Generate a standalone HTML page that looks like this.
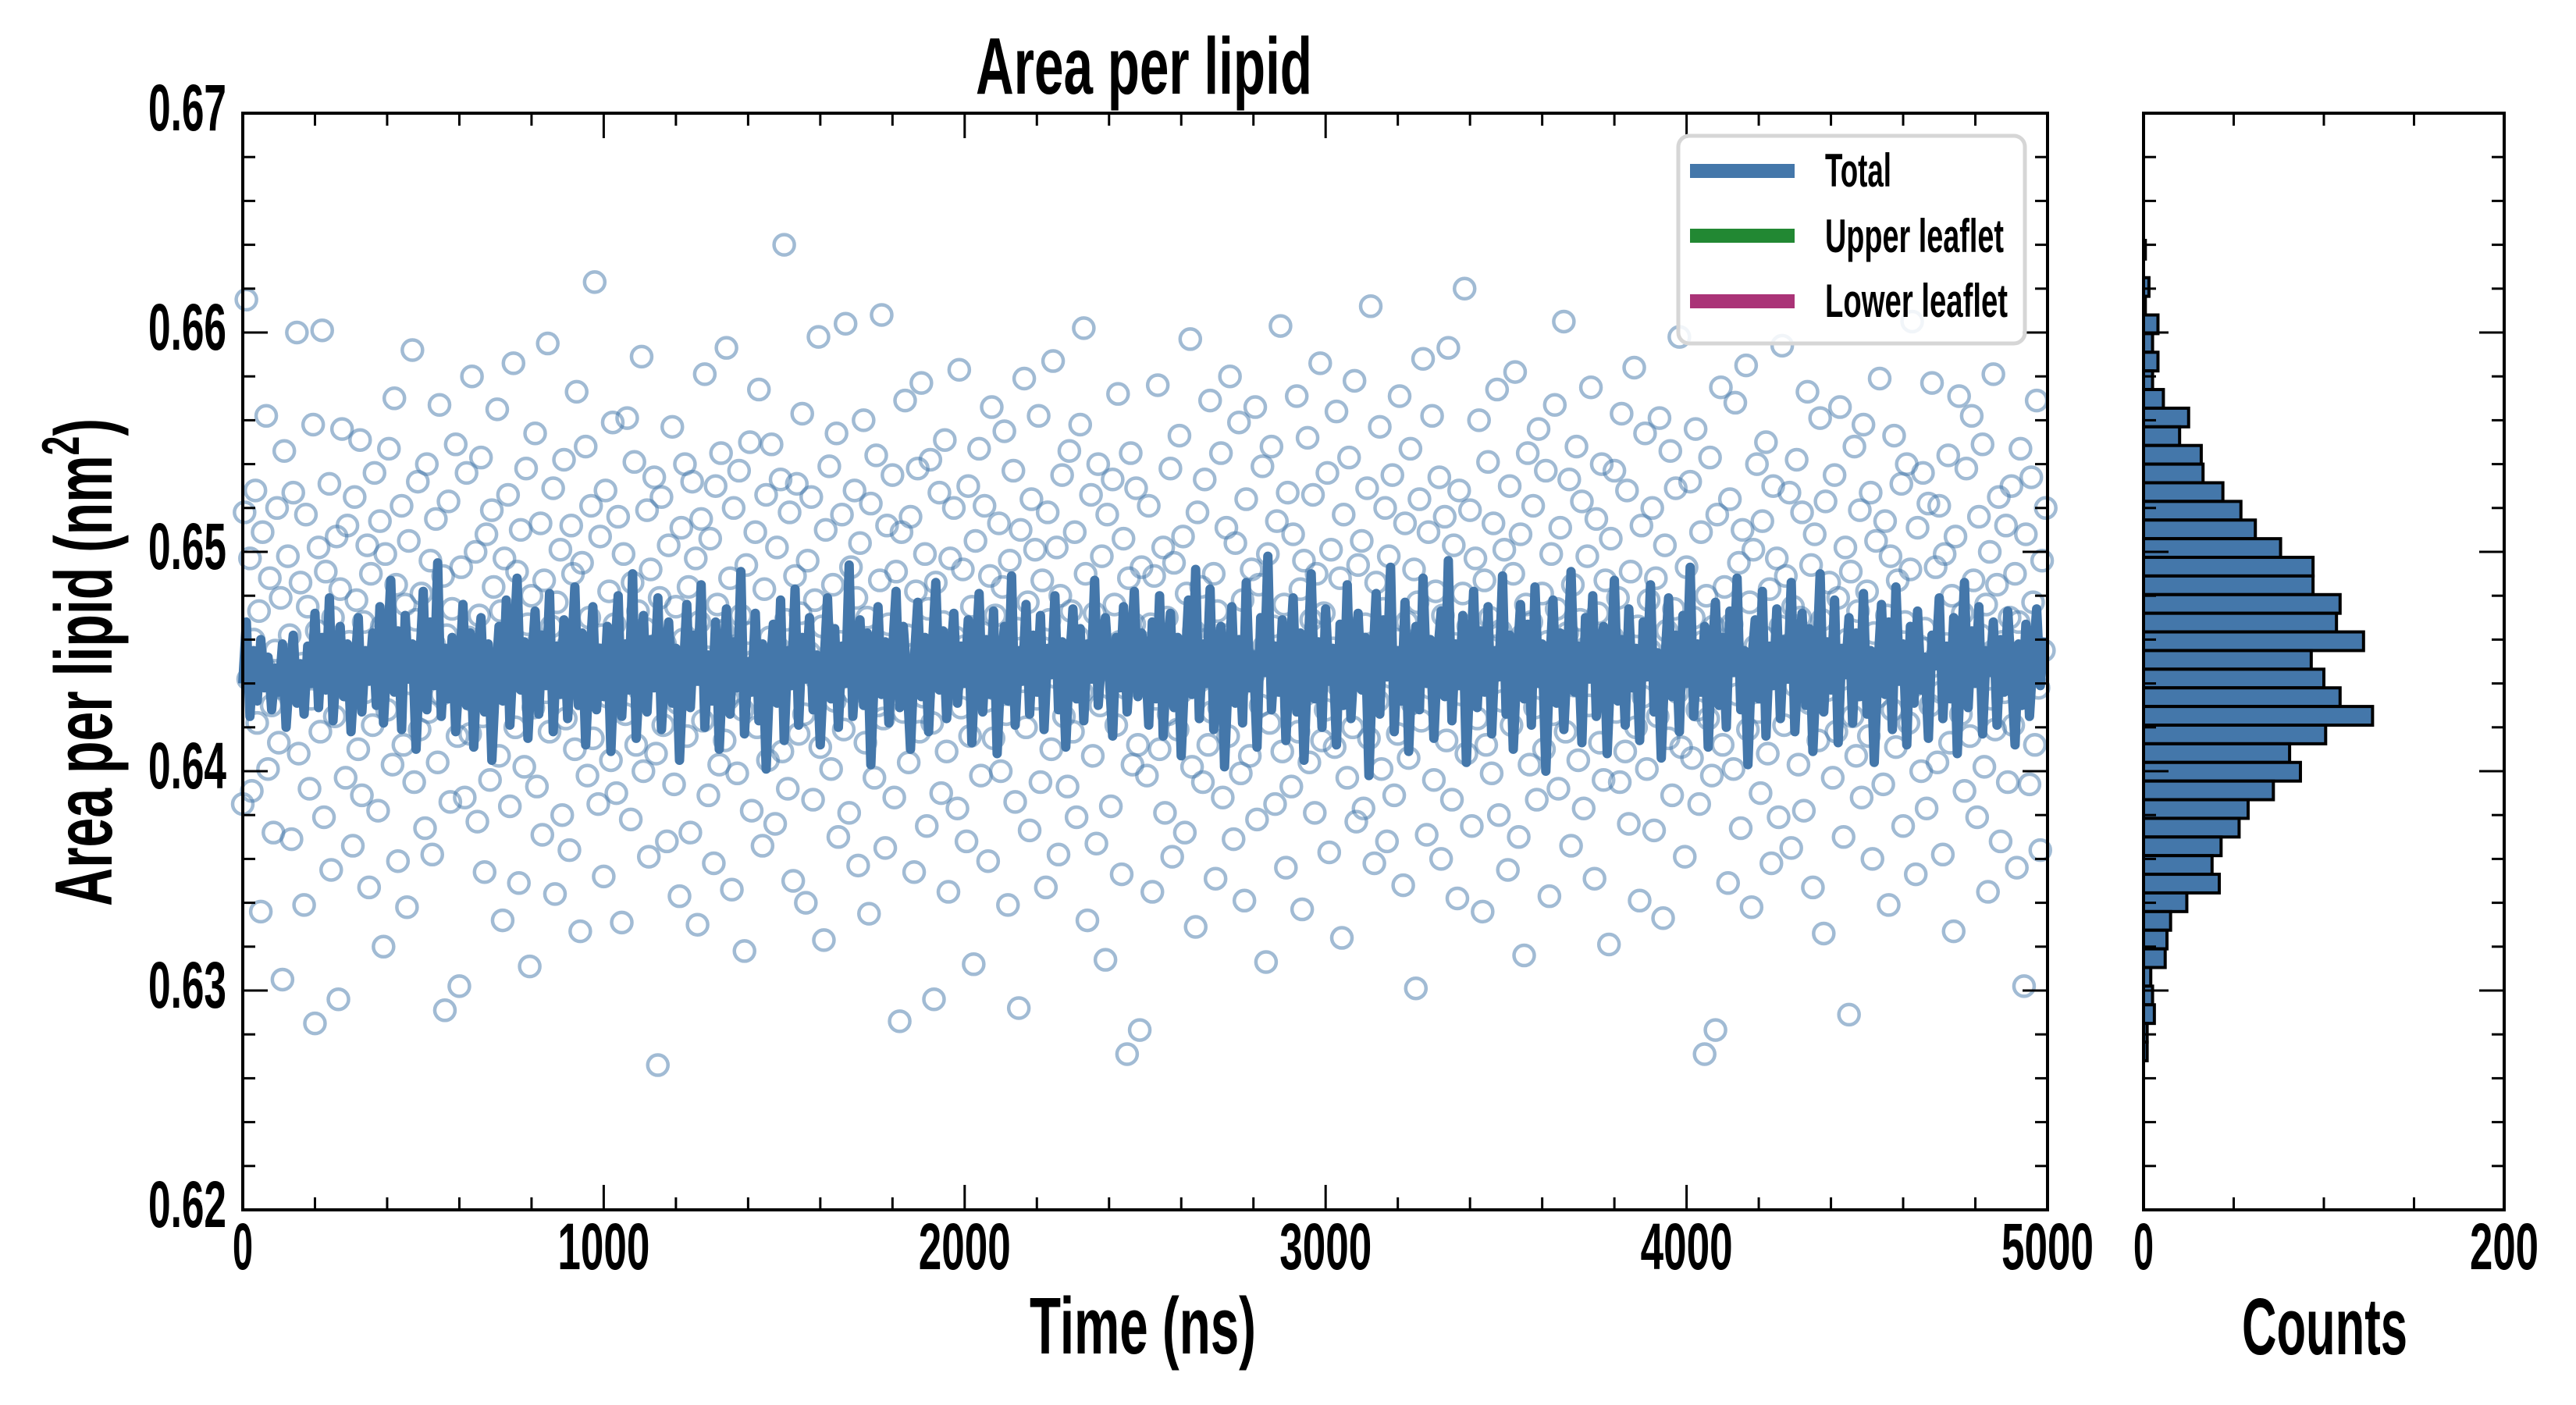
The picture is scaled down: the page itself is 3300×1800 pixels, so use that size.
<!DOCTYPE html>
<html><head><meta charset="utf-8">
<style>
html,body{margin:0;padding:0;background:#fff;}
svg{display:block;}
text{font-family:"Liberation Sans",sans-serif;font-weight:bold;fill:#000;}
</style></head>
<body>
<svg id="chart" width="3300" height="1800" viewBox="0 0 3300 1800" xmlns="http://www.w3.org/2000/svg">
<g id="scatter"></g>
<g id="line"></g>
<g id="hist"></g>
<g id="axes"></g>
<g id="legend">
  <rect x="2150" y="174" width="444" height="266" rx="14" fill="#fff" fill-opacity="0.85" stroke="#d6d6d6" stroke-width="5"/>
  <line x1="2165" y1="219" x2="2299" y2="219" stroke="#4477AA" stroke-width="18"/>
  <line x1="2165" y1="302" x2="2299" y2="302" stroke="#228833" stroke-width="18"/>
  <line x1="2165" y1="386" x2="2299" y2="386" stroke="#AA3377" stroke-width="18"/>
  <text x="2338" y="239" font-size="60" textLength="85" lengthAdjust="spacingAndGlyphs">Total</text>
  <text x="2338" y="323" font-size="60" textLength="229" lengthAdjust="spacingAndGlyphs">Upper leaflet</text>
  <text x="2338" y="406" font-size="60" textLength="234" lengthAdjust="spacingAndGlyphs">Lower leaflet</text>
</g>
<text x="1250" y="120" font-size="103" textLength="431" lengthAdjust="spacingAndGlyphs">Area per lipid</text>
<text x="1319" y="1734" font-size="103" textLength="290" lengthAdjust="spacingAndGlyphs">Time (ns)</text>
<text x="2872" y="1735" font-size="103" textLength="212" lengthAdjust="spacingAndGlyphs">Counts</text>
<text transform="translate(143,1161) rotate(-90)" font-size="104" textLength="625" lengthAdjust="spacingAndGlyphs">Area per lipid (nm<tspan font-size="68" dy="-42">2</tspan><tspan dy="42">)</tspan></text>
</svg>
<script>
const scatterStep = 5;
const scatterValues = [
.6385,.6518,.6615,.6442,.6497,.6391,.6460,.6528,.6422,.6473,.6336,.6509,.6447,.6562,.6401,.6488,.6430,.6372,.6455,.6520,
.6413,.6479,.6305,.6546,.6437,.6498,.6462,.6369,.6527,.6441,.6600,.6408,.6486,.6449,.6339,.6517,.6475,.6392,.6433,.6558,
.6285,.6464,.6502,.6418,.6601,.6379,.6491,.6446,.6531,.6355,.6470,.6425,.6507,.6296,.6483,.6556,.6438,.6397,.6512,.6459,
.6443,.6366,.6525,.6478,.6410,.6551,.6389,.6468,.6436,.6503,.6347,.6490,.6421,.6536,.6452,.6382,.6514,.6466,.6320,.6499,
.6428,.6547,.6456,.6403,.6570,.6485,.6359,.6445,.6521,.6412,.6476,.6338,.6505,.6440,.6592,.6395,.6469,.6532,.6419,.6481,
.6451,.6374,.6540,.6427,.6496,.6362,.6458,.6515,.6404,.6567,.6435,.6489,.6291,.6462,.6523,.6386,.6474,.6443,.6549,.6416,
.6302,.6493,.6450,.6388,.6536,.6461,.6417,.6580,.6432,.6500,.6377,.6471,.6543,.6425,.6354,.6508,.6447,.6396,.6519,.6484,
.6439,.6565,.6407,.6473,.6332,.6497,.6454,.6526,.6384,.6463,.6586,.6420,.6491,.6349,.6510,.6445,.6402,.6538,.6467,.6311,
.6480,.6429,.6554,.6393,.6459,.6513,.6371,.6487,.6436,.6595,.6418,.6466,.6529,.6344,.6477,.6453,.6501,.6380,.6542,.6424,
.6457,.6364,.6512,.6490,.6410,.6573,.6448,.6327,.6495,.6438,.6548,.6398,.6470,.6521,.6415,.6623,.6444,.6385,.6507,.6462,
.6352,.6528,.6434,.6482,.6405,.6559,.6467,.6390,.6516,.6449,.6331,.6499,.6426,.6561,.6455,.6378,.6486,.6541,.6412,.6473,
.6437,.6589,.6400,.6465,.6519,.6361,.6492,.6443,.6534,.6408,.6266,.6479,.6525,.6421,.6458,.6368,.6503,.6446,.6557,.6394,
.6475,.6431,.6343,.6511,.6460,.6540,.6416,.6484,.6372,.6532,.6449,.6497,.6330,.6468,.6515,.6423,.6581,.6452,.6389,.6506,
.6441,.6358,.6530,.6476,.6403,.6545,.6464,.6414,.6593,.6433,.6488,.6346,.6520,.6457,.6399,.6537,.6471,.6428,.6318,.6494,
.6463,.6550,.6382,.6450,.6509,.6420,.6574,.6439,.6366,.6483,.6526,.6405,.6461,.6549,.6435,.6376,.6502,.6456,.6533,.6409,
.6640,.6469,.6392,.6518,.6444,.6350,.6489,.6531,.6417,.6472,.6563,.6426,.6340,.6496,.6454,.6525,.6387,.6478,.6442,.6598,
.6411,.6466,.6323,.6510,.6448,.6539,.6401,.6485,.6432,.6554,.6370,.6459,.6517,.6419,.6604,.6451,.6381,.6493,.6436,.6528,
.6479,.6357,.6504,.6445,.6560,.6413,.6470,.6335,.6522,.6458,.6397,.6544,.6430,.6487,.6608,.6424,.6365,.6512,.6467,.6440,
.6535,.6388,.6491,.6453,.6286,.6509,.6427,.6569,.6462,.6404,.6516,.6447,.6354,.6482,.6538,.6418,.6577,.6434,.6499,.6375,
.6474,.6542,.6422,.6296,.6486,.6450,.6527,.6390,.6468,.6551,.6409,.6345,.6497,.6439,.6520,.6461,.6383,.6583,.6429,.6492,
.6457,.6368,.6530,.6416,.6475,.6312,.6505,.6444,.6547,.6398,.6463,.6521,.6432,.6359,.6489,.6566,.6415,.6471,.6437,.6513,
.6400,.6484,.6555,.6426,.6339,.6496,.6452,.6537,.6386,.6465,.6292,.6510,.6441,.6579,.6420,.6477,.6373,.6524,.6448,.6501,
.6433,.6562,.6395,.6487,.6456,.6347,.6518,.6469,.6410,.6587,.6443,.6502,.6362,.6480,.6535,.6425,.6455,.6393,.6546,.6473,
.6418,.6509,.6379,.6461,.6558,.6436,.6602,.6490,.6332,.6449,.6526,.6407,.6472,.6367,.6540,.6430,.6498,.6454,.6314,.6517,
.6446,.6384,.6533,.6476,.6421,.6572,.6459,.6353,.6506,.6438,.6271,.6488,.6545,.6403,.6467,.6529,.6412,.6282,.6493,.6450,
.6452,.6398,.6521,.6467,.6345,.6489,.6433,.6576,.6410,.6458,.6502,.6381,.6470,.6426,.6538,.6361,.6495,.6447,.6419,.6553,
.6436,.6507,.6372,.6481,.6455,.6597,.6402,.6464,.6329,.6518,.6441,.6484,.6395,.6533,.6460,.6412,.6569,.6427,.6490,.6351,
.6473,.6429,.6545,.6388,.6462,.6511,.6416,.6580,.6448,.6369,.6504,.6437,.6559,.6399,.6478,.6341,.6524,.6451,.6407,.6492,
.6444,.6566,.6378,.6485,.6430,.6539,.6457,.6313,.6499,.6422,.6548,.6466,.6385,.6514,.6440,.6603,.6409,.6476,.6356,.6527,
.6461,.6393,.6508,.6449,.6571,.6418,.6483,.6337,.6496,.6435,.6552,.6404,.6469,.6526,.6381,.6490,.6445,.6586,.6414,.6472,
.6428,.6536,.6363,.6501,.6456,.6411,.6564,.6439,.6488,.6324,.6517,.6453,.6397,.6543,.6465,.6420,.6578,.6377,.6494,.6447,
.6505,.6383,.6467,.6529,.6415,.6612,.6450,.6358,.6486,.6432,.6557,.6401,.6474,.6520,.6368,.6498,.6443,.6535,.6389,.6460,
.6417,.6571,.6440,.6348,.6513,.6468,.6406,.6547,.6431,.6492,.6301,.6477,.6524,.6423,.6588,.6455,.6371,.6509,.6438,.6562,
.6396,.6482,.6449,.6534,.6360,.6471,.6516,.6414,.6593,.6446,.6387,.6503,.6458,.6342,.6528,.6435,.6481,.6620,.6408,.6466,
.6519,.6375,.6452,.6497,.6424,.6560,.6443,.6336,.6487,.6412,.6541,.6470,.6399,.6513,.6457,.6574,.6380,.6464,.6432,.6501,
.6448,.6355,.6530,.6421,.6490,.6582,.6437,.6370,.6508,.6462,.6316,.6476,.6545,.6403,.6468,.6521,.6429,.6387,.6556,.6444,
.6481,.6410,.6537,.6459,.6343,.6499,.6426,.6567,.6474,.6392,.6511,.6451,.6605,.6418,.6463,.6533,.6366,.6485,.6439,.6548,
.6405,.6469,.6523,.6383,.6456,.6498,.6430,.6575,.6447,.6351,.6515,.6472,.6413,.6540,.6396,.6487,.6441,.6321,.6506,.6461,
.6537,.6427,.6479,.6395,.6563,.6450,.6409,.6528,.6376,.6491,.6445,.6584,.6420,.6466,.6341,.6512,.6434,.6554,.6401,.6478,
.6455,.6520,.6373,.6488,.6425,.6561,.6440,.6333,.6503,.6464,.6415,.6546,.6389,.6474,.6529,.6436,.6598,.6411,.6452,.6361,
.6493,.6444,.6532,.6406,.6470,.6556,.6428,.6385,.6509,.6459,.6271,.6480,.6424,.6543,.6398,.6466,.6282,.6517,.6438,.6575,
.6412,.6484,.6451,.6349,.6524,.6467,.6401,.6568,.6435,.6495,.6374,.6510,.6448,.6585,.6419,.6477,.6338,.6501,.6457,.6540,
.6427,.6390,.6514,.6461,.6550,.6408,.6483,.6358,.6530,.6443,.6497,.6379,.6466,.6594,.6421,.6489,.6452,.6527,.6365,.6475,
.6439,.6542,.6403,.6470,.6518,.6382,.6456,.6573,.6431,.6494,.6347,.6508,.6446,.6414,.6561,.6469,.6326,.6523,.6437,.6486,
.6454,.6397,.6535,.6418,.6479,.6566,.6442,.6370,.6502,.6460,.6289,.6491,.6425,.6548,.6407,.6473,.6519,.6388,.6558,.6445,
.6482,.6416,.6527,.6360,.6463,.6505,.6434,.6579,.6450,.6394,.6514,.6471,.6339,.6498,.6428,.6553,.6411,.6487,.6446,.6531,
.6375,.6468,.6540,.6422,.6492,.6605,.6439,.6353,.6511,.6457,.6400,.6536,.6465,.6383,.6522,.6430,.6577,.6448,.6493,.6404,
.6521,.6436,.6362,.6499,.6458,.6544,.6413,.6480,.6327,.6507,.6449,.6571,.6426,.6472,.6391,.6538,.6453,.6416,.6562,.6487,
.6444,.6379,.6516,.6462,.6549,.6402,.6476,.6345,.6500,.6433,.6581,.6419,.6485,.6525,.6368,.6459,.6436,.6512,.6395,.6470,
.6530,.6421,.6490,.6356,.6468,.6547,.6440,.6302,.6508,.6451,.6394,.6534,.6477,.6412,.6569,.6438,.6364,.6496,.6455,.6520
];
const lineStep = 10;
const lineValues = [
.6440,.6468,.6425,.6455,.6432,.6460,.6438,.6452,.6428,.6447,.6436,.6458,.6420,.6445,.6462,.6431,.6449,.6426,.6457,.6440,
.6472,.6429,.6461,.6437,.6479,.6423,.6450,.6466,.6434,.6458,.6418,.6446,.6470,.6427,.6455,.6441,.6463,.6430,.6475,.6422,
.6453,.6487,.6436,.6464,.6419,.6471,.6442,.6458,.6410,.6449,.6482,.6428,.6468,.6439,.6495,.6425,.6456,.6433,.6461,.6418,
.6445,.6476,.6430,.6463,.6411,.6452,.6470,.6427,.6458,.6405,.6440,.6466,.6432,.6478,.6421,.6454,.6488,.6437,.6459,.6415,
.6448,.6473,.6426,.6462,.6439,.6481,.6418,.6457,.6435,.6469,.6424,.6451,.6484,.6430,.6463,.6412,.6447,.6475,.6428,.6456,
.6434,.6466,.6409,.6452,.6480,.6425,.6458,.6437,.6490,.6415,.6445,.6471,.6427,.6460,.6438,.6479,.6419,.6450,.6468,.6431,
.6456,.6405,.6443,.6476,.6429,.6462,.6441,.6485,.6420,.6453,.6432,.6468,.6410,.6447,.6474,.6426,.6459,.6438,.6491,.6417,
.6450,.6436,.6472,.6423,.6458,.6401,.6444,.6467,.6431,.6478,.6414,.6455,.6439,.6483,.6421,.6461,.6442,.6470,.6428,.6453,
.6412,.6448,.6479,.6433,.6465,.6420,.6457,.6440,.6494,.6425,.6451,.6469,.6430,.6463,.6403,.6446,.6475,.6435,.6459,.6422,
.6454,.6482,.6429,.6466,.6443,.6410,.6450,.6477,.6434,.6461,.6418,.6455,.6486,.6437,.6464,.6424,.6449,.6472,.6431,.6457,
.6440,.6469,.6413,.6452,.6481,.6427,.6460,.6435,.6473,.6408,.6446,.6466,.6432,.6489,.6421,.6455,.6441,.6476,.6426,.6462,
.6436,.6471,.6419,.6456,.6444,.6480,.6428,.6459,.6411,.6448,.6474,.6433,.6465,.6423,.6458,.6442,.6487,.6430,.6453,.6470,
.6445,.6416,.6461,.6438,.6475,.6427,.6452,.6482,.6434,.6463,
.6455,.6421,.6468,.6433,.6480,.6416,.6450,.6472,.6429,.6461,.6407,.6446,.6478,.6435,.6492,.6424,.6458,.6440,.6483,.6419,
.6449,.6466,.6402,.6443,.6475,.6431,.6460,.6422,.6486,.6438,.6453,.6411,.6470,.6445,.6498,.6428,.6457,.6436,.6469,.6414,
.6451,.6479,.6427,.6463,.6405,.6448,.6490,.6433,.6459,.6420,.6474,.6441,.6456,.6412,.6467,.6430,.6485,.6424,.6452,.6472,
.6437,.6461,.6398,.6446,.6481,.6426,.6469,.6443,.6493,.6418,.6455,.6432,.6477,.6409,.6450,.6466,.6428,.6488,.6440,.6460,
.6415,.6452,.6473,.6434,.6496,.6423,.6458,.6439,.6471,.6404,.6447,.6482,.6429,.6464,.6436,.6475,.6417,.6455,.6443,.6489,
.6426,.6462,.6410,.6449,.6476,.6433,.6467,.6421,.6484,.6440,.6458,.6400,.6445,.6478,.6431,.6463,.6419,.6453,.6491,.6436,
.6457,.6413,.6470,.6442,.6480,.6425,.6451,.6466,.6408,.6447,.6487,.6432,.6460,.6421,.6474,.6438,.6456,.6414,.6468,.6443,
.6485,.6427,.6454,.6406,.6450,.6479,.6434,.6462,.6418,.6471,.6440,.6493,.6425,.6458,.6436,.6466,.6411,.6452,.6477,.6430,
.6461,.6420,.6473,.6445,.6488,.6428,.6455,.6403,.6449,.6469,.6433,.6482,.6416,.6457,.6439,.6474,.6424,.6460,.6442,.6486,
.6418,.6453,.6472,.6430,.6465,.6409,.6448,.6490,.6427,.6459,.6437,.6478,.6413,.6456,.6444,.6470,.6422,.6463,.6434,.6481,
.6426,.6455,.6404,.6447,.6476,.6435,.6468,.6419,.6484,.6441,.6458,.6412,.6466,.6431,.6473,.6437,.6452,.6415,.6462,.6448,
.6479,.6424,.6457,.6433,.6470,.6408,.6451,.6486,.6429,.6464,.6440,.6475,.6417,.6455,.6445,.6468,.6421,.6460,.6436,.6473,
.6443,.6412,.6458,.6430,.6467,.6425,.6452,.6474,.6439,.6461
];
const histTop = 0.6642;
const histBinWidth = 0.00085;
const histCounts = [1,0,3,1,8,5,8,5,11,25,20,32,33,44,54,62,76,94,94,109,107,122,93,100,109,127,101,81,87,72,58,53,43,38,42,24,15,13,12,4,5,6,2,2];
const xTickValues = [0,1000,2000,3000,4000,5000];
const xTickLabels = ["0","1000","2000","3000","4000","5000"];
const yTickValues = [0.62,0.63,0.64,0.65,0.66,0.67];
const yTickLabels = ["0.62","0.63","0.64","0.65","0.66","0.67"];
const hTickValues = [0,50,100,150,200];

const NS="http://www.w3.org/2000/svg";
const L=311,R=2623,T=145,B=1550,HL=2746,HR=3208;
const x=t=>L+t/5000*(R-L);
const y=v=>B-(v-0.62)/0.05*(B-T);
const xh=c=>HL+c/200*(HR-HL);
function mk(tag,attrs,parent){const e=document.createElementNS(NS,tag);for(const k in attrs)e.setAttribute(k,attrs[k]);parent.appendChild(e);return e;}

const gS=document.getElementById('scatter');
scatterValues.forEach((v,i)=>{
  const c=mk('circle',{cx:x(i*scatterStep),cy:y(v),r:13,fill:'none',stroke:'#4477AA','stroke-width':4.5,'stroke-opacity':0.5},gS);
  
  
});
const gL=document.getElementById('line');
const pts=lineValues.map((v,i)=>x(i*lineStep).toFixed(1)+','+y(v).toFixed(1)).join(' ');
const pl=mk('polyline',{points:pts,fill:'none',stroke:'#4477AA','stroke-width':12,'stroke-linejoin':'round'},gL);



const gH=document.getElementById('hist');
histCounts.forEach((c,i)=>{
  if(c<=0)return;
  const top=histTop-i*histBinWidth, bot=top-histBinWidth;
  const r=mk('rect',{x:HL,y:y(top),width:xh(c)-HL,height:y(bot)-y(top),fill:'#4477AA',stroke:'#000','stroke-width':4},gH);
  
  
});

const gA=document.getElementById('axes');
function ln(x1,y1,x2,y2,w){return mk('line',{x1,y1,x2,y2,stroke:'#000','stroke-width':w},gA);}
function txt(s,xx,yy,anchor,w){const t=mk('text',{x:xx,y:yy,'font-size':84,'text-anchor':anchor,textLength:w,lengthAdjust:'spacingAndGlyphs'},gA);t.textContent=s;return t;}
for(let t=0;t<=5000;t+=200){const maj=t%1000===0,len=maj?32:16;ln(x(t),B,x(t),B-len,3);ln(x(t),T,x(t),T+len,3);}
for(let k=0;k<=25;k++){const v=0.62+k*0.002,maj=k%5===0,len=maj?32:16;
  ln(L,y(v),L+len,y(v),3);ln(R,y(v),R-len,y(v),3);ln(HL,y(v),HL+len,y(v),3);ln(HR,y(v),HR-len,y(v),3);}
hTickValues.forEach(c=>{ln(xh(c),B,xh(c),B-16,3);ln(xh(c),T,xh(c),T+16,3);});
const f1=mk('rect',{x:L,y:T,width:R-L,height:B-T,fill:'none',stroke:'#000','stroke-width':4},gA);


const f2=mk('rect',{x:HL,y:T,width:HR-HL,height:B-T,fill:'none',stroke:'#000','stroke-width':4},gA);


xTickValues.forEach((t,i)=>{const e=txt(xTickLabels[i],x(t),1626,'middle',xTickLabels[i].length===1?26:118);
  
  });
yTickValues.forEach((v,i)=>{const e=txt(yTickLabels[i],290,y(v)+22,'end',100);
  
  });
const h0=txt('0',xh(0),1626,'middle',26);


const h200=txt('200',xh(200),1626,'middle',88);


</script>
</body></html>
